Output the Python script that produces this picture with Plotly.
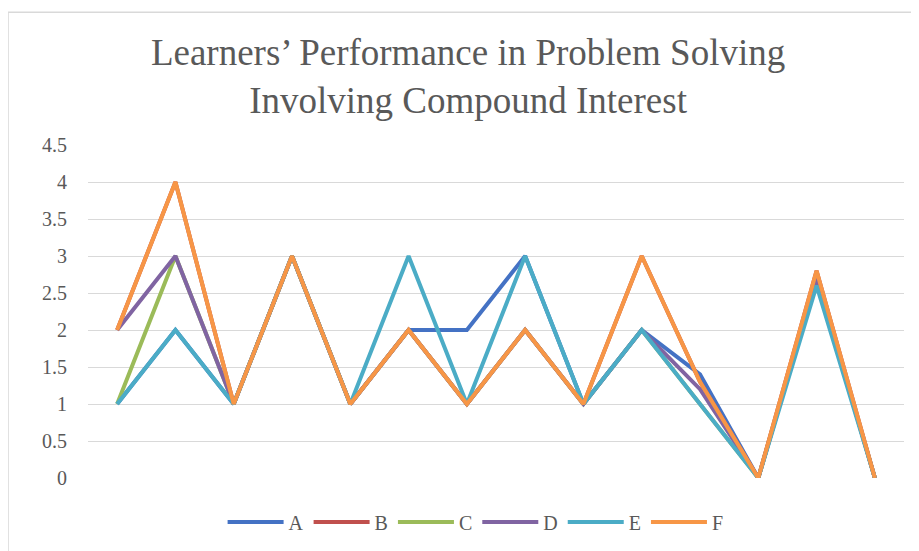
import plotly.graph_objects as go

categories = ["1", "2", "3", "4", "5", "6", "7", "8", "9", "10", "11", "12", "13", "14"]
series_names = ["A", "B", "C", "D", "E", "F"]
A = [1, 2, 1, 3, 1, 2, 2, 3, 1, 2, 1.4, 0, 2.7, 0]
B = [2, 4, 1, 3, 1, 2, 1, 2, 1, 3, 1.3, 0, 2.8, 0]
C = [1, 3, 1, 3, 1, 2, 1, 2, 1, 2, 1, 0, 2.7, 0]
D = [2, 3, 1, 3, 1, 2, 1, 2, 1, 2, 1.2, 0, 2.7, 0]
E = [1, 2, 1, 3, 1, 3, 1, 3, 1, 2, 1, 0, 2.6, 0]
F = [2, 4, 1, 3, 1, 2, 1, 2, 1, 3, 1.3, 0, 2.8, 0]
y_ticks = [0, 0.5, 1, 1.5, 2, 2.5, 3, 3.5, 4, 4.5]

colors = ["#4472C4", "#C0504D", "#9BBB59", "#8064A2", "#4BACC6", "#F79646"]
data = [A, B, C, D, E, F]

fig = go.Figure()
for name, vals, col in zip(series_names, data, colors):
    fig.add_trace(go.Scatter(x=categories, y=vals, name=name, mode="lines",
                             line=dict(color=col, width=4)))

serif = "Liberation Serif, Times New Roman, serif"
W, H = 911, 543
fig.update_layout(
    width=W, height=H,
    paper_bgcolor="white", plot_bgcolor="white",
    margin=dict(l=80, r=15, t=137, b=73, autoexpand=False),
    title=dict(text="Learners’ Performance in Problem Solving<br>Involving Compound Interest",
               x=0.505, xanchor="center", y=1 - 57 / H, yanchor="middle",
               font=dict(family=serif, size=37, color="#595959")),
    xaxis=dict(type="category", range=[-0.5, 13.5], showticklabels=False,
               showgrid=False, zeroline=False, showline=False, ticks=""),
    yaxis=dict(range=[0, 4.5], tickvals=y_ticks,
               ticktext=[f"{v:g}" for v in y_ticks],
               showgrid=True, gridcolor="#D9D9D9", gridwidth=1,
               zeroline=False, showline=False, ticks="",
               ticklabelstandoff=20,
               tickfont=dict(family=serif, size=20, color="#595959")),
    legend=dict(orientation="h", x=0.475, xanchor="center",
                yref="container", y=(H - 514) / H, yanchor="middle",
                font=dict(family=serif, size=20, color="#595959"),
                itemwidth=56, tracegroupgap=0),
    showlegend=True,
    shapes=[
        dict(type="line", xref="paper", yref="paper", x0=-0.098, x1=1.1, y0=1.399, y1=1.399,
             line=dict(color="#D9D9D9", width=1.5)),
        dict(type="line", xref="paper", yref="paper", x0=-0.098, x1=-0.098, y0=1.399, y1=-0.3,
             line=dict(color="#D9D9D9", width=1.5)),
    ],
)

fig.write_html("out.html")
